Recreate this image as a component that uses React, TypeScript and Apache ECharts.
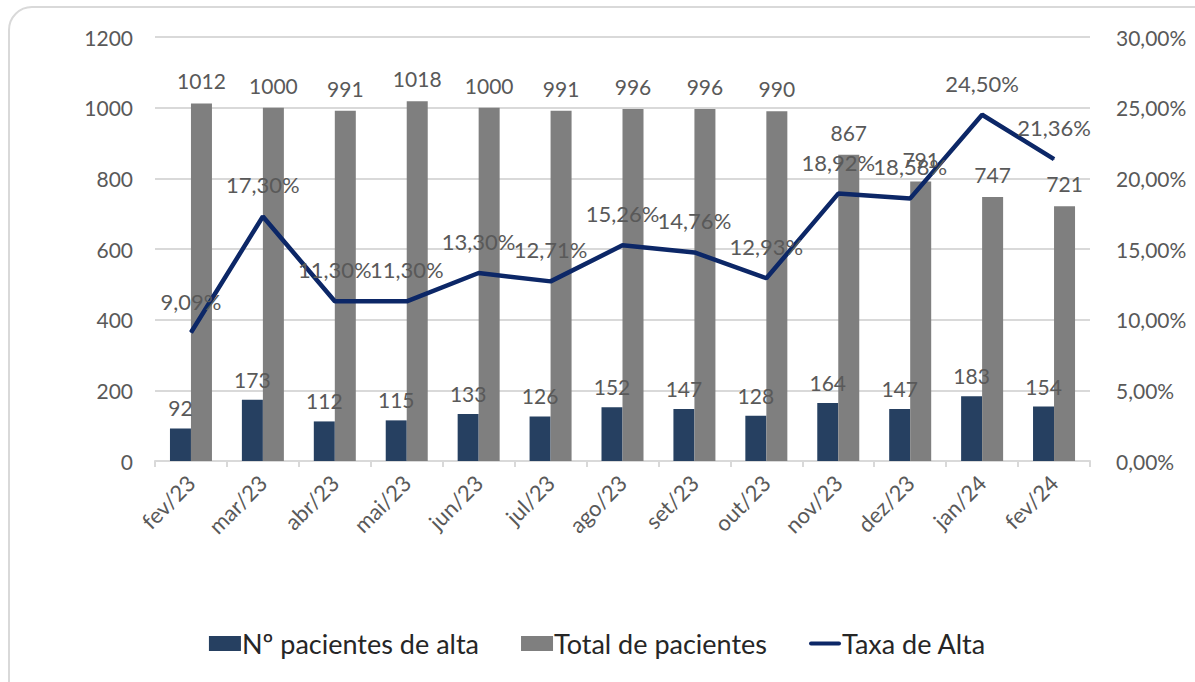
import React, { useEffect, useRef } from "react";
import * as echarts from "echarts";

const categories = ["fev/23", "mar/23", "abr/23", "mai/23", "jun/23", "jul/23", "ago/23", "set/23", "out/23", "nov/23", "dez/23", "jan/24", "fev/24"];
const altas = [92, 173, 112, 115, 133, 126, 152, 147, 128, 164, 147, 183, 154];
const totais = [1012, 1000, 991, 1018, 1000, 991, 996, 996, 990, 867, 791, 747, 721];
const taxa = [9.09, 17.3, 11.3, 11.3, 13.3, 12.71, 15.26, 14.76, 12.93, 18.92, 18.58, 24.5, 21.36];

const FONT = "Lato, 'Liberation Sans', sans-serif";
const TXT = "#595959";
const pct = (v: number) => v.toFixed(2).replace(".", ",") + "%";

export default function App() {
  const ref = useRef<HTMLDivElement>(null);
  useEffect(() => {
    if (!ref.current) return;
    const chart = echarts.init(ref.current, undefined, { renderer: "svg" });
    chart.setOption({
      animation: false,
      textStyle: { fontFamily: FONT, color: TXT },
      grid: { left: 155, right: 105, top: 37, bottom: 221, containLabel: false },
      legend: {
        bottom: 20,
        left: "center",
        itemGap: 42,
        itemWidth: 32,
        itemHeight: 15,
        textStyle: { fontFamily: FONT, fontSize: 27, color: "#262626", padding: [0, 0, 0, -4] },
        data: [
          { name: "Nº pacientes de alta", icon: "rect" },
          { name: "Total de pacientes", icon: "rect" },
          { name: "Taxa de Alta", icon: "path://M2,0 L30,0 A2,2 0 0 1 30,4 L2,4 A2,2 0 0 1 2,0 Z", itemStyle: { color: "#0C2767" } },
        ],
      },
      xAxis: {
        type: "category",
        data: categories,
        boundaryGap: true,
        axisLine: { lineStyle: { color: "#d9d9d9", width: 2 } },
        axisTick: { show: true, length: 6, lineStyle: { color: "#d9d9d9", width: 2 } },
        axisLabel: { rotate: 45, fontSize: 22, color: TXT, fontFamily: FONT, margin: 18 },
      },
      yAxis: [
        {
          type: "value",
          min: 0,
          max: 1200,
          interval: 200,
          axisLine: { show: false },
          axisTick: { show: false },
          splitLine: { lineStyle: { color: "#d9d9d9", width: 2 } },
          axisLabel: { fontSize: 21, color: TXT, fontFamily: FONT, margin: 22, formatter: (v: number) => String(v) },
        },
        {
          type: "value",
          min: 0,
          max: 30,
          interval: 5,
          axisLine: { show: false },
          axisTick: { show: false },
          splitLine: { show: false },
          axisLabel: { fontSize: 21, color: TXT, fontFamily: FONT, margin: 26, formatter: (v: number) => pct(v) },
        },
      ],
      series: [
        {
          name: "Nº pacientes de alta",
          type: "bar",
          data: altas,
          barWidth: 21,
          barGap: "0%",
          itemStyle: { color: "#264061" },
          label: { show: true, position: "top", distance: 10, fontSize: 21, color: TXT, fontFamily: FONT },
        },
        {
          name: "Total de pacientes",
          type: "bar",
          data: totais,
          barWidth: 21,
          barGap: "0%",
          itemStyle: { color: "#7F7F7F" },
          label: { show: true, position: "top", distance: 12, fontSize: 21, color: TXT, fontFamily: FONT },
        },
        {
          name: "Taxa de Alta",
          type: "line",
          yAxisIndex: 1,
          data: taxa,
          symbol: "circle",
          symbolSize: 1,
          showSymbol: true,
          z: 5,
          lineStyle: { color: "#0C2767", width: 4.5 },
          itemStyle: { color: "#0C2767" },
          label: {
            show: true,
            position: "top",
            distance: 20,
            fontSize: 22,
            color: TXT,
            fontFamily: FONT,
            formatter: (p: any) => pct(p.value),
          },
          labelLayout: { hideOverlap: false },
        },
      ],
    });
    return () => chart.dispose();
  }, []);
  return (
    <div style={{ position: "fixed", left: 0, top: 0, width: 1195, height: 682, overflow: "hidden", background: "#fff" }}>
      <div
        style={{
          position: "absolute",
          left: 8,
          top: 6,
          width: 1210,
          height: 710,
          border: "2px solid #d9d9d9",
          borderRadius: 24,
          boxSizing: "border-box",
        }}
      />
      <div ref={ref} style={{ position: "absolute", left: 0, top: 0, width: 1195, height: 682 }} />
    </div>
  );
}
